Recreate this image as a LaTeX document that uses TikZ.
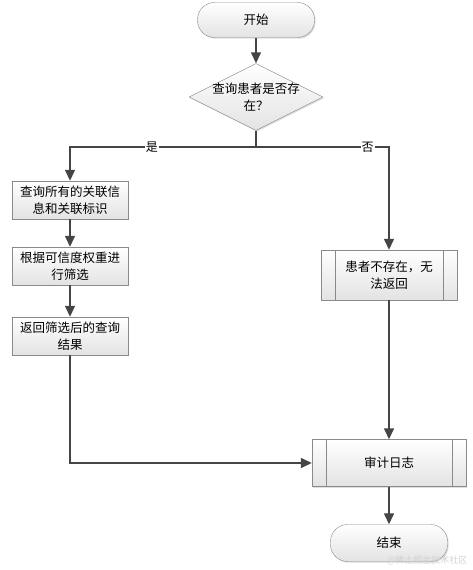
\documentclass[tikz,border=0pt]{standalone}
\usepackage{fontspec}
\setmainfont{Noto Sans CJK SC}
\usetikzlibrary{arrows.meta,shapes.geometric,shadows}
\definecolor{linegray}{HTML}{454545}
\definecolor{boxgray}{HTML}{8A8A8A}
\tikzset{
    box/.style={rectangle, draw=boxgray, top color=white, bottom color=gray!22,
        drop shadow={shadow xshift=1.2pt, shadow yshift=-1.2pt, opacity=0.25},
        align=center, inner sep=2pt, font=\fontsize{12.5}{17}\selectfont},
    procbox/.style={box, minimum width=116pt, minimum height=38pt},
    subbox/.style={box, path picture={
        \draw[boxgray] ([xshift=#1]path picture bounding box.north west) -- ([xshift=#1]path picture bounding box.south west);
        \draw[boxgray] ([xshift=-#1]path picture bounding box.north east) -- ([xshift=-#1]path picture bounding box.south east);}},
    termbox/.style={box, rounded corners=17pt, minimum width=117pt, minimum height=35pt},
    decision/.style={box, diamond, aspect=2, inner sep=-5pt, minimum width=134pt, minimum height=67pt},
    line/.style={draw=linegray, line width=1.4pt, -{Triangle[width=10pt,length=11pt]}},
    tag/.style={fill=white, inner sep=1pt, font=\fontsize{12}{14}\selectfont}
}
\begin{document}
\begin{tikzpicture}[x=1pt,y=-1pt]
    \useasboundingbox (0,0) rectangle (473,570);

    % Start and decision
    \node[termbox] (start) at (256,20) {开始};
    \node[decision] (query) at (256,97) {查询患者是否存\\在？};
    \coordinate (fork) at (256,147);

    % Left branch: patient exists
    \node[procbox] (related) at (70,200) {查询所有的关联信\\息和关联标识};
    \node[procbox] (filter) at (70,266) {根据可信度权重进\\行筛选};
    \node[procbox] (result) at (70,336) {返回筛选后的查询\\结果};

    % Right branch: patient missing
    \node[subbox=14pt, minimum width=136pt, minimum height=50pt] (absent) at (389,275) {患者不存在，无\\法返回};

    % Audit and end
    \node[subbox=14pt, minimum width=154pt, minimum height=47pt] (audit) at (389,463) {审计日志};
    \node[termbox, minimum height=37pt] (finish) at (389,543) {结束};

    % Connectors
    \draw[line] (start) -- (query);
    \draw[draw=linegray, line width=1.4pt] (query.south) -- (fork);
    \draw[line] (fork) -| node[tag, pos=0.28] {是} (related.north);
    \draw[line] (fork) -| node[tag, pos=0.42] {否} (absent.north);
    \draw[line] (related) -- (filter);
    \draw[line] (filter) -- (result);
    \draw[line] (result.south) |- (audit.west);
    \draw[line] (absent) -- (audit);
    \draw[line] (audit) -- (finish);

    % Watermark
    \node[text=gray!35, font=\fontsize{9}{10}\selectfont, anchor=east] (mark) at (471,560) {@稀土掘金技术社区};
\end{tikzpicture}
\end{document}
